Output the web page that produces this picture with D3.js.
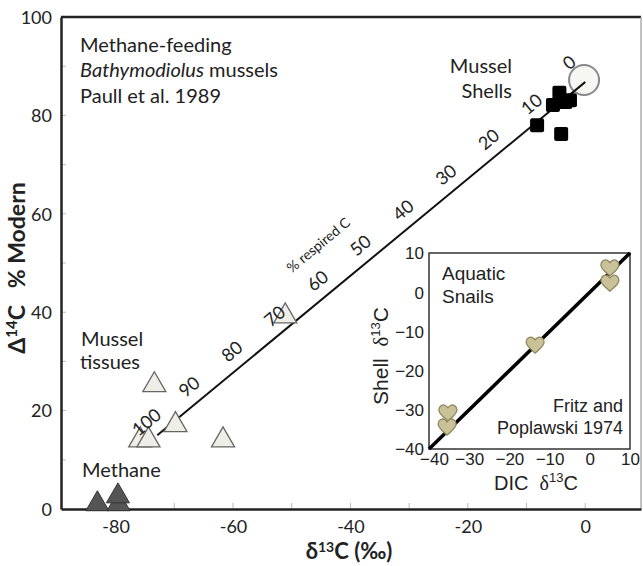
<!DOCTYPE html>
<html>
<head>
<meta charset="utf-8">
<script src="https://cdn.jsdelivr.net/npm/d3@7"></script>
<style>
  body { margin: 0; background: #fff; }
  svg text { font-family: Lato, "Open Sans", sans-serif; fill: #222; white-space: pre; }
  .inset text { font-family: "Liberation Sans", Arial, sans-serif; }
</style>
</head>
<body>
<div id="chart"></div>
<script>
// main plot data (delta13C, Delta14C)
var shellX = [-8.2, -4.1, -5.5, -4.4, -2.6, -3.4];
var shellY = [78.0, 76.2, 82.1, 84.6, 83.1, 82.7];
var modernX = [-0.2];
var modernY = [87.2];
var tissueX = [-73.4, -75.8, -74.4, -69.8, -61.7, -51.1];
var tissueY = [25.6, 14.4, 14.4, 17.5, 14.4, 39.6];
var methaneX = [-83.1, -79.5, -79.6];
var methaneY = [0.8, 0.8, 2.4];
var mixLineX = [0, -72.9];
var mixLineY = [86.8, 15.0];
var pctLabels = [0, 10, 20, 30, 40, 50, 60, 70, 80, 90, 100];
var xTicks = [-80, -60, -40, -20, 0];
var yTicks = [0, 20, 40, 60, 80, 100];

// inset data (DIC d13C vs shell d13C)
var snailX = [5.0, 5.0, -13.6, -35.3, -35.5];
var snailY = [6.2, 2.3, -13.5, -30.8, -34.4];
var insetTicks = [-40, -30, -20, -10, 0, 10];

var width = 643, height = 566;
var svg = d3.select("#chart").append("svg")
    .attr("width", width)
    .attr("height", height);

var x = d3.scaleLinear().domain([-89.3, 9.5]).range([61, 641]);
var y = d3.scaleLinear().domain([0, 100]).range([509, 17]);

// frame (top + right)
svg.append("line").attr("x1", 61).attr("x2", 641).attr("y1", 17).attr("y2", 17)
    .attr("stroke", "#222").attr("stroke-width", 2.5);
svg.append("line").attr("x1", 641).attr("x2", 641).attr("y1", 17).attr("y2", 509)
    .attr("stroke", "#999").attr("stroke-width", 1.2);

// minor ticks inside
svg.selectAll(".ytk").data(d3.range(10, 100, 10)).enter().append("line")
    .attr("x1", 61).attr("x2", 66)
    .attr("y1", d => y(d)).attr("y2", d => y(d))
    .attr("stroke", "#bbb").attr("stroke-width", 1);
svg.selectAll(".xtk").data(d3.range(-80, 10, 10)).enter().append("line")
    .attr("x1", d => x(d)).attr("x2", d => x(d))
    .attr("y1", 509).attr("y2", 503)
    .attr("stroke", "#bbb").attr("stroke-width", 1);

// axes
var yAxis = svg.append("g").attr("transform", "translate(61,0)")
    .call(d3.axisLeft(y).tickValues(yTicks).tickSize(0).tickPadding(9));
var xAxis = svg.append("g").attr("transform", "translate(0,509)")
    .call(d3.axisBottom(x).tickValues(xTicks).tickSize(0).tickPadding(11)
        .tickFormat(d => d === 0 ? "0" : "-" + Math.abs(d)));
[yAxis, xAxis].forEach(function(a) {
    a.select(".domain").attr("stroke", "#222").attr("stroke-width", 2.5);
    a.selectAll("text").style("font-size", "18px").attr("fill", "#222")
        .style("font-family", "Lato, sans-serif");
});
yAxis.selectAll("text").attr("dy", "0.35em");

// axis titles
var yt = svg.append("text")
    .attr("transform", "translate(25,268) rotate(-90)")
    .attr("text-anchor", "middle")
    .style("font-size", "23px").style("font-weight", "bold");
yt.append("tspan").text("Δ");
yt.append("tspan").text("14").attr("dy", -8).style("font-size", "15px");
yt.append("tspan").text("C   % Modern").attr("dy", 8);

var xt = svg.append("text")
    .attr("x", 349).attr("y", 559)
    .attr("text-anchor", "middle")
    .style("font-size", "22px").style("font-weight", "bold");
xt.append("tspan").text("δ");
xt.append("tspan").text("13").attr("dy", -7).style("font-size", "14px");
xt.append("tspan").text("C (‰)").attr("dy", 7);

// mixing line with % respired C labels
var p0 = [x(mixLineX[0]), y(mixLineY[0])];
var p1 = [x(mixLineX[1]), y(mixLineY[1])];
var dx = p1[0] - p0[0], dy = p1[1] - p0[1];
var len = Math.sqrt(dx * dx + dy * dy);
var ux = dx / len, uy = dy / len;
var nx = -Math.abs(uy), ny = -Math.abs(ux);   // perpendicular, pointing up-left
var ang = Math.atan2(-dy, -dx) * 180 / Math.PI;

svg.append("line")
    .attr("x1", p0[0]).attr("y1", p0[1]).attr("x2", p1[0]).attr("y2", p1[1])
    .attr("stroke", "#111").attr("stroke-width", 2);

// open circle (modern)
svg.selectAll(".modern").data(modernX).enter().append("circle")
    .attr("cx", d => x(d)).attr("cy", (d, i) => y(modernY[i]))
    .attr("r", 15)
    .attr("fill", "rgba(240,240,234,0.6)").attr("stroke", "#888").attr("stroke-width", 2);

svg.append("line")
    .attr("x1", p0[0]).attr("y1", p0[1])
    .attr("x2", p0[0] + ux * 20).attr("y2", p0[1] + uy * 20)
    .attr("stroke", "#111").attr("stroke-width", 2);

svg.selectAll(".shell").data(shellX).enter().append("rect")
    .attr("x", d => x(d) - 7).attr("y", (d, i) => y(shellY[i]) - 7)
    .attr("width", 14).attr("height", 14).attr("rx", 2)
    .attr("fill", "#000");

var tri = d3.symbol().type(d3.symbolTriangle);
svg.selectAll(".tissue").data(tissueX).enter().append("path")
    .attr("d", tri.size(230)())
    .attr("transform", (d, i) => "translate(" + x(d) + "," + (y(tissueY[i]) + 2) + ")")
    .attr("fill", "#eeeee6").attr("stroke", "#666").attr("stroke-width", 1.3);

svg.selectAll(".methane").data(methaneX).enter().append("path")
    .attr("d", tri.size(230)())
    .attr("transform", (d, i) => "translate(" + x(d) + "," + (y(methaneY[i]) - 1) + ")")
    .attr("fill", "#555").attr("stroke", "#333").attr("stroke-width", 1);

// the "0" label sits above the circle, so it is pushed out further
svg.selectAll(".pct").data(pctLabels).enter().append("text")
    .attr("transform", function(d) {
        var t = d / 100;
        var off = d === 0 ? 25 : 17;
        var px = p0[0] + dx * t + nx * off;
        var py = p0[1] + dy * t + ny * off;
        return "translate(" + px + "," + py + ") rotate(" + ang + ")";
    })
    .attr("text-anchor", "middle").attr("dy", "0.35em")
    .style("font-size", "18px")
    .text(d => d);

svg.append("text")
    .attr("transform", "translate(" + (p0[0] + dx * 0.558 + nx * 44) + "," +
        (p0[1] + dy * 0.558 + ny * 44) + ") rotate(" + ang + ")")
    .attr("text-anchor", "middle").attr("dy", "0.35em")
    .style("font-size", "14px")
    .text("% respired C");

// annotations
var ann = svg.append("text").style("font-size", "20px");
ann.append("tspan").attr("x", 80).attr("y", 52).text("Methane-feeding");
var l2 = ann.append("tspan").attr("x", 80).attr("y", 77);
l2.append("tspan").style("font-style", "italic").text("Bathymodiolus");
l2.append("tspan").text(" mussels");
ann.append("tspan").attr("x", 80).attr("y", 103).text("Paull et al. 1989");

var ms = svg.append("text").style("font-size", "20px").attr("text-anchor", "end");
ms.append("tspan").attr("x", 512).attr("y", 73).text("Mussel");
ms.append("tspan").attr("x", 512).attr("y", 98).text("Shells");

var mt = svg.append("text").style("font-size", "20px");
mt.append("tspan").attr("x", 81).attr("y", 346).text("Mussel");
mt.append("tspan").attr("x", 80).attr("y", 369).text("tissues");

svg.append("text").attr("x", 82).attr("y", 477).style("font-size", "20px").text("Methane");

// ---------- inset ----------
var ix = d3.scaleLinear().domain([-40, 10]).range([429, 630]);
var iy = d3.scaleLinear().domain([-40, 10]).range([449, 253]);
var inset = svg.append("g").attr("class", "inset");

inset.append("rect")
    .attr("x", 429).attr("y", 253).attr("width", 201).attr("height", 196)
    .attr("fill", "#fff").attr("stroke", "#333").attr("stroke-width", 1.5);

inset.append("g").attr("transform", "translate(429,0)")
    .call(d3.axisLeft(iy).tickValues(insetTicks).tickSize(0).tickPadding(5))
    .call(g => g.select(".domain").remove())
    .selectAll("text").style("font-size", "17px").attr("fill", "#222").attr("dy", "0.35em");
inset.append("g").attr("transform", "translate(0,449)")
    .call(d3.axisBottom(ix).tickValues(insetTicks).tickSize(0).tickPadding(4))
    .call(g => g.select(".domain").remove())
    .selectAll("text").style("font-size", "17px").attr("fill", "#222")
    .attr("dx", d => d === -40 ? 5 : 0);

inset.append("line")
    .attr("x1", ix(-40)).attr("y1", iy(-40)).attr("x2", ix(10)).attr("y2", iy(10))
    .attr("stroke", "#000").attr("stroke-width", 3.5);

var heart = "M0,8 C-4,4.5 -9,1 -9,-3 C-9,-7 -5,-9 -2.5,-7.5 C-1,-6.6 0,-5.2 0,-4.6 " +
    "C0,-5.2 1,-6.6 2.5,-7.5 C5,-9 9,-7 9,-3 C9,1 4,4.5 0,8 Z";
inset.selectAll(".snail").data(snailX).enter().append("path")
    .attr("d", heart)
    .attr("transform", (d, i) => "translate(" + ix(d) + "," + iy(snailY[i]) + ")")
    .attr("fill", "#c9c197").attr("stroke", "#8f875f").attr("stroke-width", 1.3);

var aq = inset.append("text").style("font-size", "19px");
aq.append("tspan").attr("x", 442).attr("y", 280).text("Aquatic");
aq.append("tspan").attr("x", 442).attr("y", 303).text("Snails");

var fp = inset.append("text").style("font-size", "18px").attr("text-anchor", "end");
fp.append("tspan").attr("x", 623).attr("y", 412).text("Fritz and");
fp.append("tspan").attr("x", 623).attr("y", 434).text("Poplawski 1974");

var ixt = inset.append("text").attr("x", 536).attr("y", 490)
    .attr("text-anchor", "middle").style("font-size", "20px");
ixt.append("tspan").text("DIC  ");
ixt.append("tspan").text("δ").style("font-family", "Liberation Serif, serif");
ixt.append("tspan").text("13").attr("dy", -8).style("font-size", "13px");
ixt.append("tspan").text("C").attr("dy", 8);

var iyt = inset.append("text").attr("transform", "translate(388,356) rotate(-90)")
    .attr("text-anchor", "middle").style("font-size", "21px");
iyt.append("tspan").text("Shell  ");
iyt.append("tspan").text("δ").style("font-family", "Liberation Serif, serif");
iyt.append("tspan").text("13").attr("dy", -8).style("font-size", "13px");
iyt.append("tspan").text("C").attr("dy", 8);
</script>
</body>
</html>
